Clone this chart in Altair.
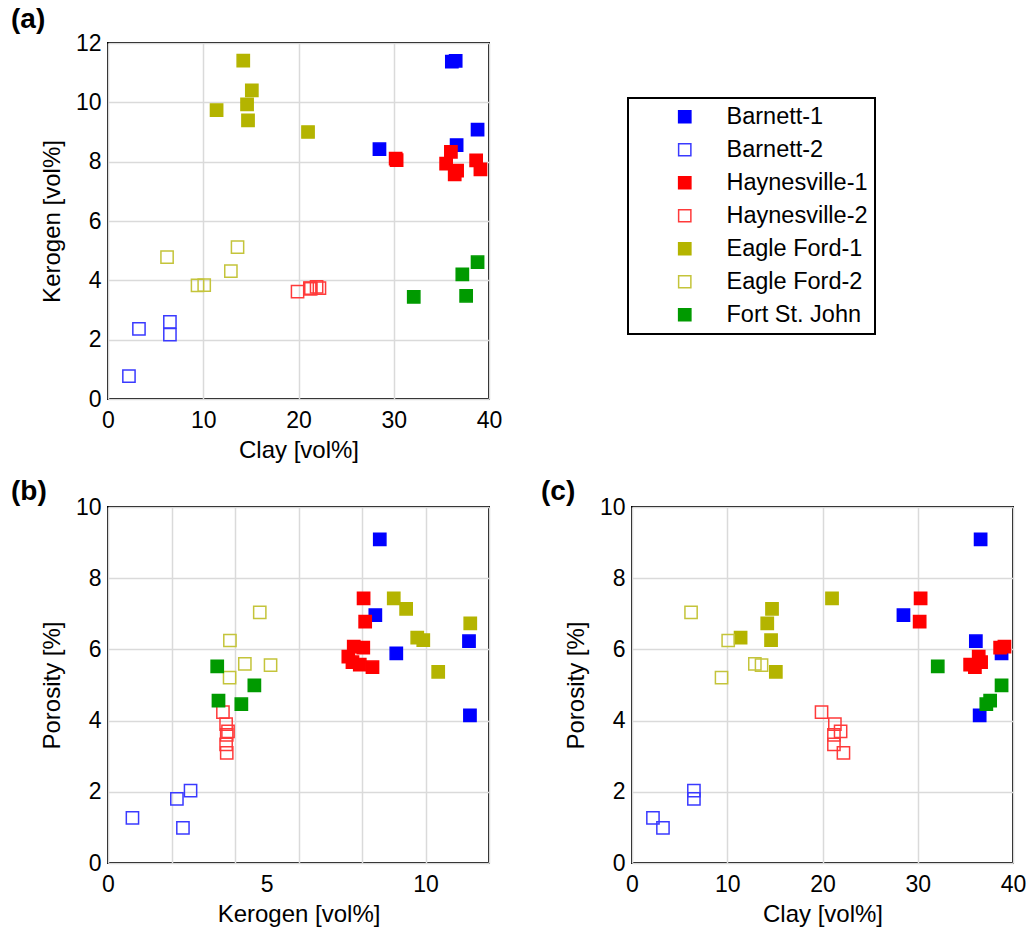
import altair as alt
import pandas as pd

FONT = "Liberation Sans"

series_names = ["Barnett-1", "Barnett-2", "Haynesville-1", "Haynesville-2",
                "Eagle Ford-1", "Eagle Ford-2", "Fort St. John"]
fill_colors = ["#0000ff", "transparent", "#ff0000", "transparent",
               "#b4b400", "transparent", "#009a00"]
stroke_colors = ["#0000ff", "#3a3aff", "#ff0000", "#ff3a3a",
                 "#b4b400", "#c4c43a", "#009a00"]

# (clay vol%, kerogen vol%, porosity %) for each sample
barnett_1 = [(36.6, 8.56, 9.09), (28.5, 8.42, 6.96), (38.8, 9.08, 5.89),
             (36.1, 11.37, 6.23), (36.5, 11.40, 4.15)]
barnett_2 = [(2.2, 0.77, 1.27), (3.25, 2.36, 0.99), (6.5, 2.60, 2.03),
             (6.5, 2.17, 1.80)]
haynesville_1 = [(30.3, 8.05, 7.43), (30.2, 8.10, 6.78), (38.65, 8.04, 6.05),
                 (39.1, 7.74, 6.08), (36.0, 8.33, 5.50), (35.5, 7.93, 5.57),
                 (36.4, 7.57, 5.80), (36.65, 7.70, 5.64)]
haynesville_2 = [(19.9, 3.62, 4.24), (21.3, 3.72, 3.90), (21.9, 3.78, 3.70),
                 (21.2, 3.74, 3.60), (21.2, 3.72, 3.33), (22.2, 3.74, 3.09)]
eagle_ford_1 = [(21.0, 9.00, 7.43), (14.7, 9.39, 7.14), (14.2, 11.41, 6.73),
                (11.4, 9.74, 6.33), (14.6, 9.93, 6.26), (15.1, 10.40, 5.37)]
eagle_ford_2 = [(6.2, 4.78, 7.04), (10.1, 3.84, 6.25), (12.9, 4.31, 5.59),
                (13.6, 5.12, 5.56), (9.4, 3.83, 5.21)]
fort_st_john = [(32.1, 3.44, 5.52), (38.8, 4.61, 4.99), (37.6, 3.48, 4.56),
                (37.2, 4.20, 4.46)]

groups = [barnett_1, barnett_2, haynesville_1, haynesville_2,
          eagle_ford_1, eagle_ford_2, fort_st_john]
rows = []
for name, samples in zip(series_names, groups):
    for clay, kerogen, porosity in samples:
        rows.append({"series": name, "clay": clay, "kerogen": kerogen,
                     "porosity": porosity})
df = pd.DataFrame(rows)

legend = alt.Legend(
    title=None, orient="none", legendX=520, legendY=55,
    symbolType="square", symbolSize=150, symbolStrokeWidth=1.5,
    labelFont=FONT, labelFontSize=23.5, labelColor="black",
    padding=7, rowPadding=8, labelOffset=30, symbolOffset=38,
    strokeColor="black", fillColor="white",
)

fill_enc = alt.Fill("series:N", scale=alt.Scale(domain=series_names, range=fill_colors),
                    legend=legend)
stroke_enc = alt.Stroke("series:N", scale=alt.Scale(domain=series_names, range=stroke_colors),
                        legend=legend)


def panel(label, label_x, label_y, xfield, xtitle, xdomain, xaxis,
          yfield, ytitle, ydomain, yaxis):
    points = alt.Chart(df).mark_point(
        shape="square", size=150, strokeWidth=1.5, opacity=1
    ).encode(
        x=alt.X(f"{xfield}:Q", title=xtitle,
                scale=alt.Scale(domain=xdomain, nice=False, zero=False), axis=xaxis),
        y=alt.Y(f"{yfield}:Q", title=ytitle,
                scale=alt.Scale(domain=ydomain, nice=False, zero=False), axis=yaxis),
        fill=fill_enc,
        stroke=stroke_enc,
    )
    tag = alt.Chart(pd.DataFrame({"panel": [label]})).mark_text(
        font=FONT, fontSize=28, fontWeight="bold", color="black",
        align="left", baseline="middle",
    ).encode(text="panel:N", x=alt.value(label_x), y=alt.value(label_y))
    return alt.layer(points, tag).properties(width=381, height=356)


clay_axis = alt.Axis(values=[0, 10, 20, 30, 40])
kerogen_y_axis = alt.Axis(values=[0, 2, 4, 6, 8, 10, 12])
porosity_axis = alt.Axis(values=[0, 2, 4, 6, 8, 10])
# kerogen x axis: grid every 2, labels at 0, 5, 10
kerogen_x_axis = alt.Axis(
    values=[0, 2, 4, 5, 6, 8, 10, 12],
    labelExpr="datum.value % 5 == 0 && datum.value < 12 ? datum.label : ''",
    gridOpacity={"condition": {"test": "datum.value == 5", "value": 0}, "value": 1},
)

chart_a = panel("(a)", -97, -23, "clay", "Clay [vol%]", [0, 40], clay_axis,
                "kerogen", "Kerogen [vol%]", [0, 12], kerogen_y_axis)
chart_b = panel("(b)", -97, -15, "kerogen", "Kerogen [vol%]", [0, 12], kerogen_x_axis,
                "porosity", "Porosity [%]", [0, 10], porosity_axis)
chart_c = panel("(c)", -91, -15, "clay", "Clay [vol%]", [0, 40], clay_axis,
                "porosity", "Porosity [%]", [0, 10], porosity_axis)

chart = alt.vconcat(
    chart_a,
    alt.hconcat(chart_b, chart_c, spacing=50),
    spacing=14,
).properties(
    padding={"left": 10, "top": 5, "right": 0, "bottom": 0},
    background="white",
).configure_view(
    stroke="black", strokeWidth=2,
).configure_axis(
    labelFont=FONT, labelFontSize=23, labelColor="black", labelFlush=False,
    ticks=False, domain=False,
    titleFont=FONT, titleFontSize=24, titleFontWeight="normal", titleColor="black",
    gridColor="#dadada", gridWidth=1.5,
).configure_axisX(
    labelPadding=10, titlePadding=6,
).configure_axisY(
    labelPadding=7, titlePadding=11,
).configure_legend(
    strokeWidth=2,
)

chart.save("out.html", embed_options={"renderer": "svg", "actions": False})
